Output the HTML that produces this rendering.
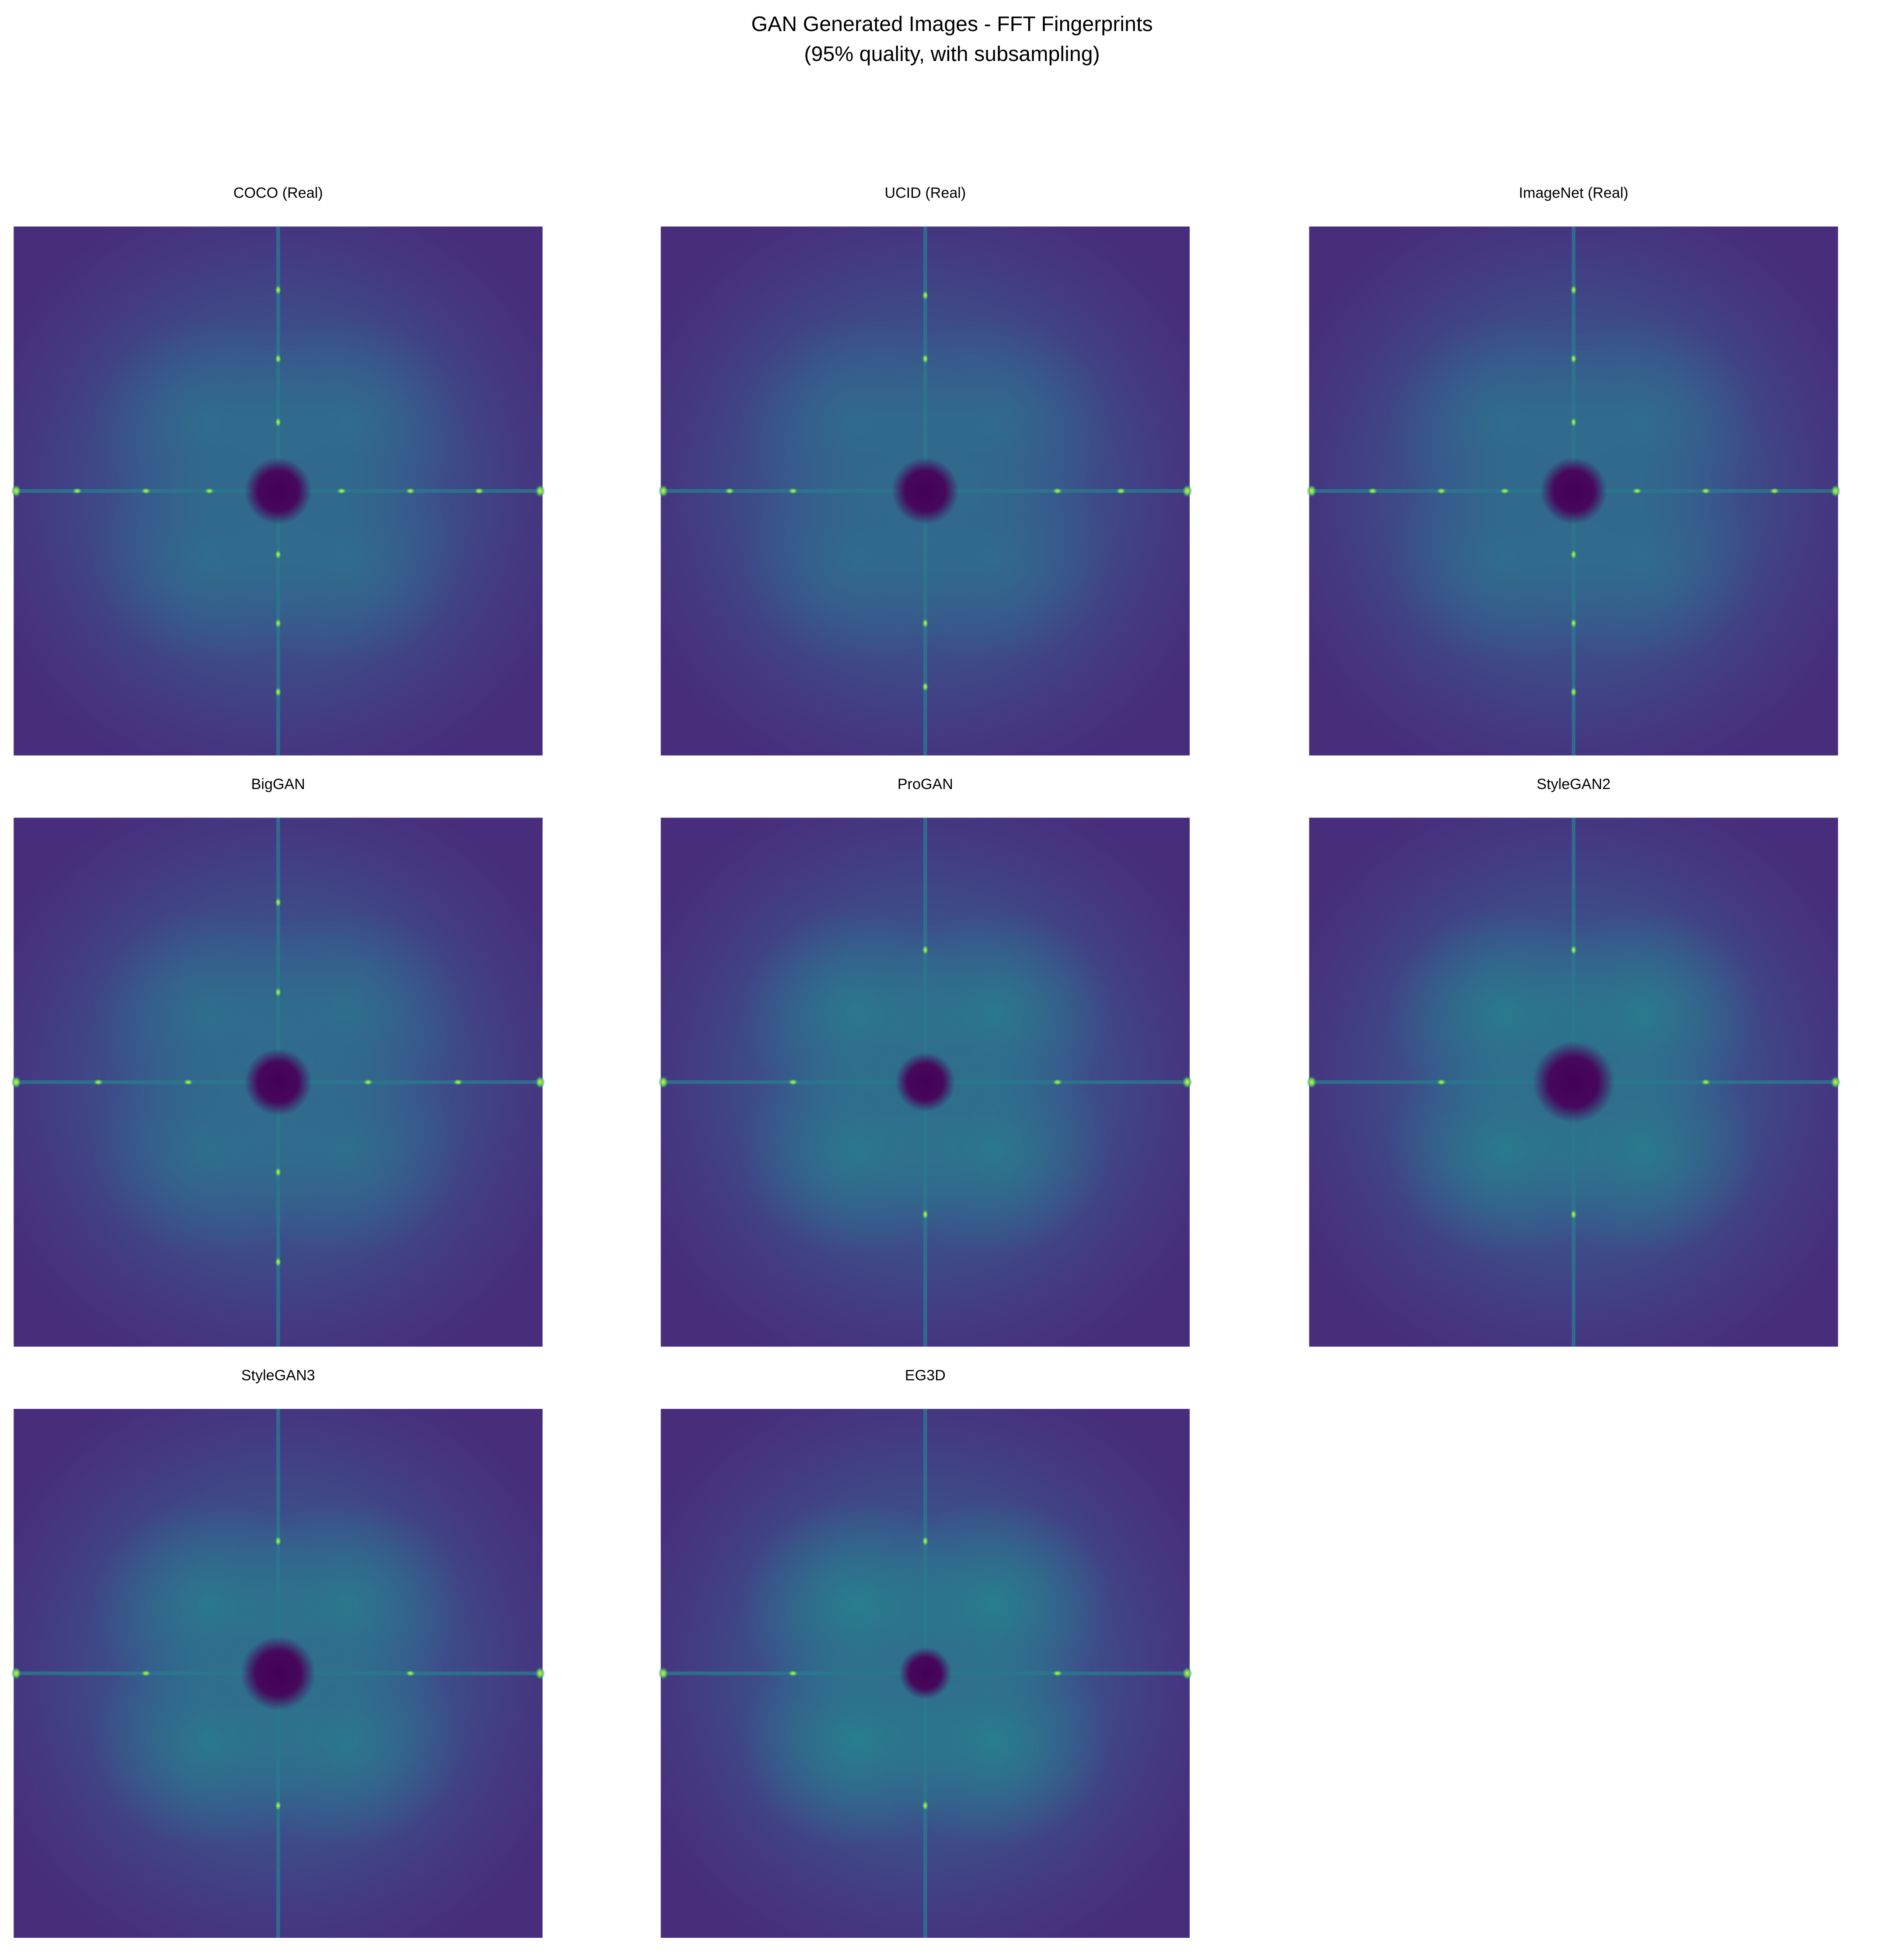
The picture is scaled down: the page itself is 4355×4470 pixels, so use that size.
<!DOCTYPE html>
<html><head><meta charset="utf-8"><style>
html,body{margin:0;padding:0;background:#fff;}
svg{display:block;}
text{font-family:"Liberation Sans","DejaVu Sans",sans-serif;}
</style></head><body>
<svg id="fig" width="4355" height="4470" viewBox="0 0 1530 1570" preserveAspectRatio="none" xmlns="http://www.w3.org/2000/svg">
<defs>
<radialGradient id="bgGlow" cx="0.5" cy="0.5" r="0.6">
<stop offset="0" stop-color="#33638d"/><stop offset="0.45" stop-color="#3b528b"/><stop offset="0.8" stop-color="#453781"/><stop offset="1" stop-color="#472d7b"/>
</radialGradient>
<radialGradient id="lobe" cx="0.5" cy="0.5" r="0.5">
<stop offset="0" stop-color="#25858e" stop-opacity="0.85"/><stop offset="1" stop-color="#25858e" stop-opacity="0"/>
</radialGradient>
<radialGradient id="hole" cx="0.5" cy="0.5" r="0.5">
<stop offset="0" stop-color="#440154"/><stop offset="0.6" stop-color="#46085c"/><stop offset="1" stop-color="#46085c" stop-opacity="0"/>
</radialGradient>
<radialGradient id="dot" cx="0.5" cy="0.5" r="0.5">
<stop offset="0" stop-color="#fde725"/><stop offset="0.5" stop-color="#5ec962"/><stop offset="1" stop-color="#21918c" stop-opacity="0"/>
</radialGradient>
</defs>
<text x="765" y="25" text-anchor="middle" font-size="17">GAN Generated Images - FFT Fingerprints</text>
<text x="765" y="49" text-anchor="middle" font-size="17">(95% quality, with subsampling)</text>
<g id="panels"></g>
</svg>
<script>
const titles = ["COCO (Real)","UCID (Real)","ImageNet (Real)","BigGAN","ProGAN","StyleGAN2","StyleGAN3","EG3D"];
const lobeStrength = [0.55,0.5,0.55,0.6,0.85,0.9,0.85,1.0];
const holeRadius = [18,18,18,18,16,22,20,14];
const axisDots = [[0.12,0.25,0.37,0.5,0.62,0.75,0.88],[0.13,0.25,0.5,0.75,0.87],[0.12,0.25,0.37,0.5,0.62,0.75,0.88],[0.16,0.33,0.5,0.67,0.84],[0.25,0.5,0.75],[0.25,0.5,0.75],[0.25,0.5,0.75],[0.25,0.5,0.75]];
const colX = [11,531,1052];
const rowY = [182,657,1132];
const size = 425;
const NS = "http://www.w3.org/2000/svg";
const root = document.getElementById("panels");
function mk(tag, attrs, parent){const e=document.createElementNS(NS,tag);for(const k in attrs)e.setAttribute(k,attrs[k]);parent.appendChild(e);return e;}
titles.forEach((t,i)=>{
  const x0=colX[i%3], y0=rowY[Math.floor(i/3)], cx=x0+size/2, cy=y0+size/2;
  const g=mk("g",{},root);
  
  
  const tt=mk("text",{x:cx,y:y0-23,"text-anchor":"middle","font-size":"12"},g);
  tt.textContent=t;
  
  
  mk("rect",{x:x0,y:y0,width:size,height:size,fill:"url(#bgGlow)"},g);
  const s=lobeStrength[i];
  [[-1,-1],[1,-1],[-1,1],[1,1]].forEach(([dx,dy])=>{
    mk("ellipse",{cx:cx+dx*55,cy:cy+dy*55,rx:95,ry:85,fill:"url(#lobe)",opacity:s},g);
  });
  mk("rect",{x:cx-1.5,y:y0,width:3,height:size,fill:"#2a788e",opacity:0.8},g);
  mk("rect",{x:x0,y:cy-1.5,width:size,height:3,fill:"#2a788e",opacity:0.8},g);
  mk("circle",{cx:cx,cy:cy,r:holeRadius[i]*1.5,fill:"url(#hole)"},g);
  axisDots[i].forEach(f=>{
    if(f===0.5)return;
    const d=mk("ellipse",{cx:x0+f*size,cy:cy,rx:4,ry:2.5,fill:"url(#dot)"},g);
    
    
    mk("ellipse",{cx:cx,cy:y0+f*size,rx:2.5,ry:4,fill:"url(#dot)"},g);
  });
  [[x0+2,cy],[x0+size-2,cy]].forEach(([px,py])=>mk("ellipse",{cx:px,cy:py,rx:4,ry:5,fill:"url(#dot)"},g));
});
</script>
</body></html>
